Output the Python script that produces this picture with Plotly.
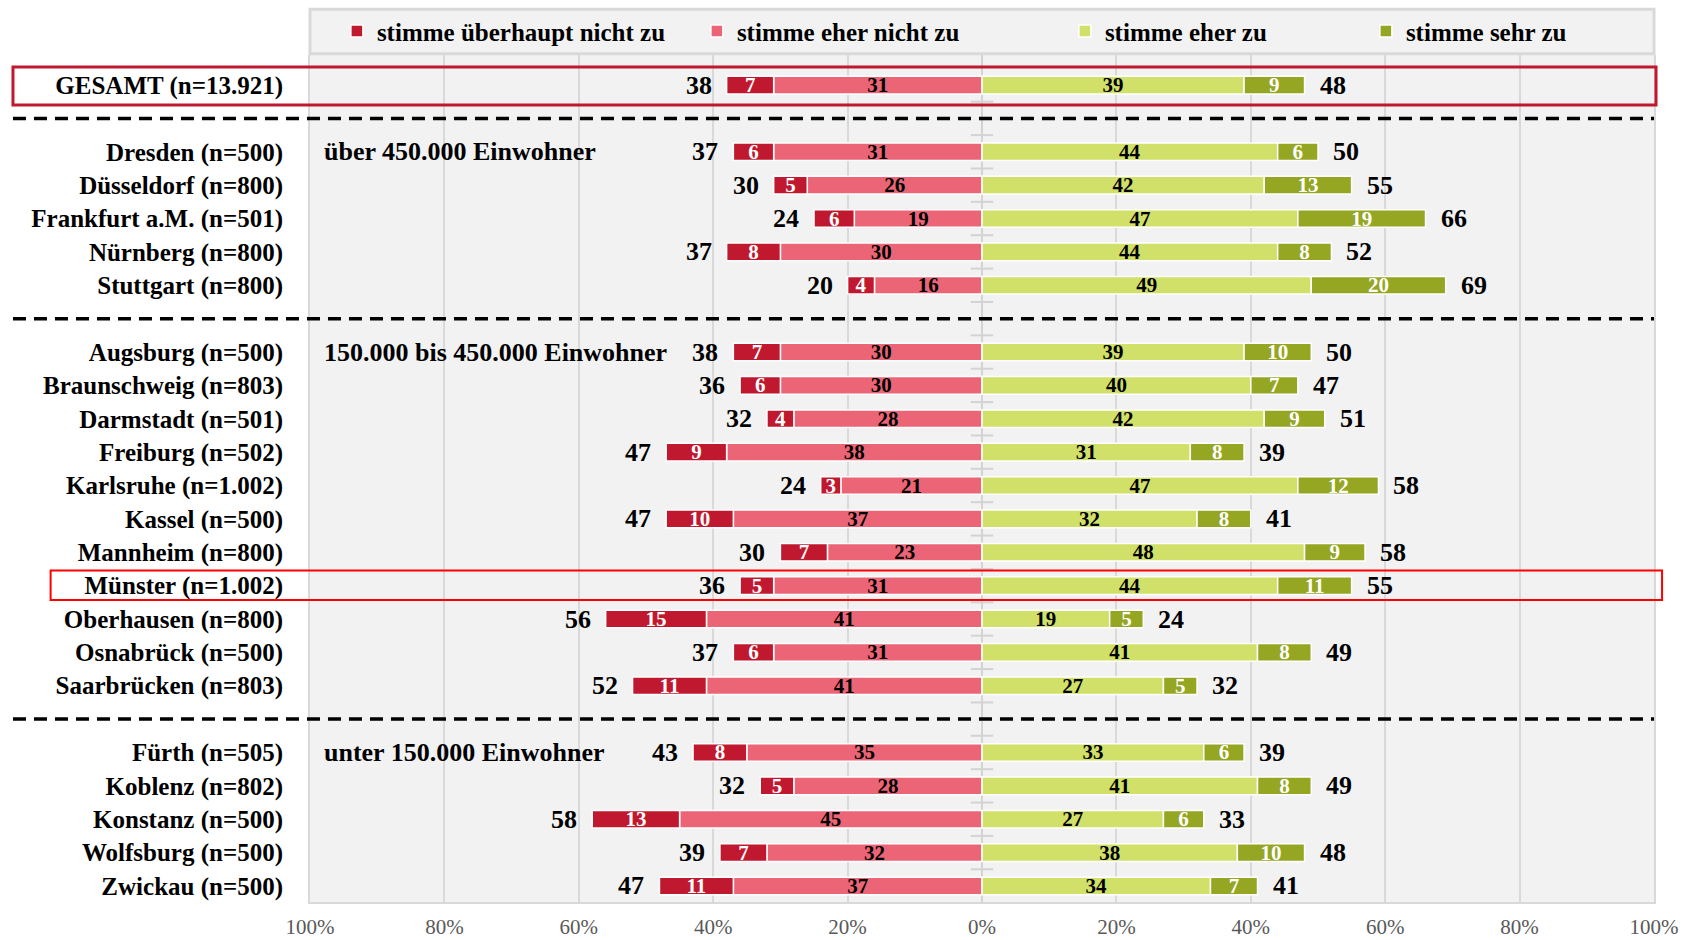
import plotly.graph_objects as go

FONT = "Liberation Serif"

categories = [
    "GESAMT (n=13.921)",
    "Dresden (n=500)", "Düsseldorf (n=800)", "Frankfurt a.M. (n=501)", "Nürnberg (n=800)", "Stuttgart (n=800)",
    "Augsburg (n=500)", "Braunschweig (n=803)", "Darmstadt (n=501)", "Freiburg (n=502)", "Karlsruhe (n=1.002)",
    "Kassel (n=500)", "Mannheim (n=800)", "Münster (n=1.002)", "Oberhausen (n=800)", "Osnabrück (n=500)",
    "Saarbrücken (n=803)",
    "Fürth (n=505)", "Koblenz (n=802)", "Konstanz (n=500)", "Wolfsburg (n=500)", "Zwickau (n=500)",
]
block_sizes = [1, 5, 11, 5]
group_labels = ["", "über 450.000 Einwohner", "150.000 bis 450.000 Einwohner", "unter 150.000 Einwohner"]

v_ueberhaupt_nicht = [7, 6, 5, 6, 8, 4, 7, 6, 4, 9, 3, 10, 7, 5, 15, 6, 11, 8, 5, 13, 7, 11]
v_eher_nicht = [31, 31, 26, 19, 30, 16, 30, 30, 28, 38, 21, 37, 23, 31, 41, 31, 41, 35, 28, 45, 32, 37]
v_eher_zu = [39, 44, 42, 47, 44, 49, 39, 40, 42, 31, 47, 32, 48, 44, 19, 41, 27, 33, 41, 27, 38, 34]
v_sehr_zu = [9, 6, 13, 19, 8, 20, 10, 7, 9, 8, 12, 8, 9, 11, 5, 8, 5, 6, 8, 6, 10, 7]
total_nicht = [38, 37, 30, 24, 37, 20, 38, 36, 32, 47, 24, 47, 30, 36, 56, 37, 52, 43, 32, 58, 39, 47]
total_zu = [48, 50, 55, 66, 52, 69, 50, 47, 51, 39, 58, 41, 58, 55, 24, 49, 32, 39, 49, 33, 48, 41]

tick_vals_x = [-100, -80, -60, -40, -20, 0, 20, 40, 60, 80, 100]
tick_text_x = ["100%", "80%", "60%", "40%", "20%", "0%", "20%", "40%", "60%", "80%", "100%"]

C_DR = "#C0192F"
C_LR = "#EC6577"
C_LG = "#D0E068"
C_DG = "#95A623"

# slot positions: one empty slot between blocks
slots, gap_slots, block_first = [], [], []
s = 0
for b, n in enumerate(block_sizes):
    if b > 0:
        gap_slots.append(s)
        s += 1
    block_first.append(s)
    for i in range(n):
        slots.append(s)
        s += 1
last_slot = slots[-1]

fig = go.Figure()

def add_bar(vals, sign, name, color, tcolor, rank, lw):
    fig.add_trace(go.Bar(
        y=slots, x=[sign * v for v in vals], orientation="h", name=name,
        marker=dict(color=color, line=dict(color="white", width=1.5)),
        width=0.53, text=[str(v) for v in vals], textposition="inside",
        insidetextanchor="middle", textangle=0, constraintext="none",
        textfont=dict(family=FONT, size=21, color=tcolor, weight="bold"),
        legendrank=rank, legendwidth=lw, hoverinfo="skip",
    ))

add_bar(v_eher_nicht, -1, "stimme eher nicht zu", C_LR, "black", 2, 323)
add_bar(v_ueberhaupt_nicht, -1, "stimme überhaupt nicht zu", C_DR, "white", 1, 315)
add_bar(v_eher_zu, 1, "stimme eher zu", C_LG, "black", 3, 256)
add_bar(v_sehr_zu, 1, "stimme sehr zu", C_DG, "white", 4, 250)

# small tick marks on the central axis between rows
fig.add_trace(go.Scatter(
    x=[0] * (last_slot), y=[k + 0.5 for k in range(last_slot)], mode="markers",
    marker=dict(symbol="line-ew", size=16, line=dict(color="#D3D3D3", width=2)),
    showlegend=False, hoverinfo="skip",
))

annotations = []
for i, y in enumerate(slots):
    neg = v_ueberhaupt_nicht[i] + v_eher_nicht[i]
    pos = v_eher_zu[i] + v_sehr_zu[i]
    annotations.append(dict(x=-neg, y=y, text=str(total_nicht[i]), xanchor="right", showarrow=False,
                            xshift=-13, font=dict(family=FONT, size=26, color="black", weight="bold")))
    annotations.append(dict(x=pos, y=y, text=str(total_zu[i]), xanchor="left", showarrow=False,
                            xshift=13, font=dict(family=FONT, size=26, color="black", weight="bold")))
for b, lab in enumerate(group_labels):
    if lab:
        annotations.append(dict(x=0, xref="paper", y=block_first[b], yref="y", text=lab, xanchor="left",
                                showarrow=False, xshift=12,
                                font=dict(family=FONT, size=26, color="black", weight="bold")))

shapes = []
# legend background box
shapes.append(dict(type="rect", xref="paper", yref="paper", x0=0, x1=1, y0=1.0015, y1=1.054,
                   fillcolor="#F2F2F2", line=dict(color="#D9D9D9", width=3), layer="below"))
for g in gap_slots:
    shapes.append(dict(type="line", xref="paper", yref="y", x0=-0.221, x1=1.0, y0=g, y1=g,
                       line=dict(color="black", width=3.5, dash="13px,8px")))
# GESAMT box
shapes.append(dict(type="rect", xref="paper", yref="y", x0=-0.221, x1=1.0015, y0=slots[0] - 0.54, y1=slots[0] + 0.6,
                   line=dict(color=C_DR, width=3)))
# Münster box
mi = categories.index("Münster (n=1.002)")
shapes.append(dict(type="rect", xref="paper", yref="y", x0=-0.193, x1=1.006, y0=slots[mi] - 0.45, y1=slots[mi] + 0.43,
                   line=dict(color="#FF0000", width=2)))

fig.update_layout(
    width=1686, height=940,
    margin=dict(l=310, r=32, t=55, b=38, autoexpand=False),
    barmode="relative",
    paper_bgcolor="white", plot_bgcolor="#F2F2F2",
    font=dict(family=FONT, color="black"),
    showlegend=True,
    legend=dict(orientation="h", x=0.02, y=1.028, xanchor="left", yanchor="middle",
                bgcolor="rgba(0,0,0,0)", font=dict(family=FONT, size=25, color="black", weight="bold"),
                traceorder="normal"),
    xaxis=dict(range=[-100, 100], tickvals=tick_vals_x, ticktext=tick_text_x,
               showgrid=True, gridcolor="#D9D9D9", gridwidth=1.5,
               zeroline=True, zerolinecolor="#D3D3D3", zerolinewidth=1.5,
               showline=True, linecolor="#D9D9D9", linewidth=2,
               ticks="outside", ticklen=5, tickcolor="rgba(0,0,0,0)",
               tickfont=dict(family=FONT, size=21, color="#595959")),
    yaxis=dict(range=[last_slot + 0.48, -0.9], tickvals=slots, ticktext=categories,
               showgrid=False, zeroline=False, showline=True, mirror=True, linecolor="#D9D9D9", linewidth=2,
               ticks="outside", ticklen=20, tickcolor="rgba(0,0,0,0)",
               tickfont=dict(family=FONT, size=25, color="black", weight="bold")),
    annotations=annotations,
    shapes=shapes,
)

fig.write_html("out.html", config={"displayModeBar": False},
               post_script="document.body.style.margin='0';document.body.style.overflow='hidden';")
